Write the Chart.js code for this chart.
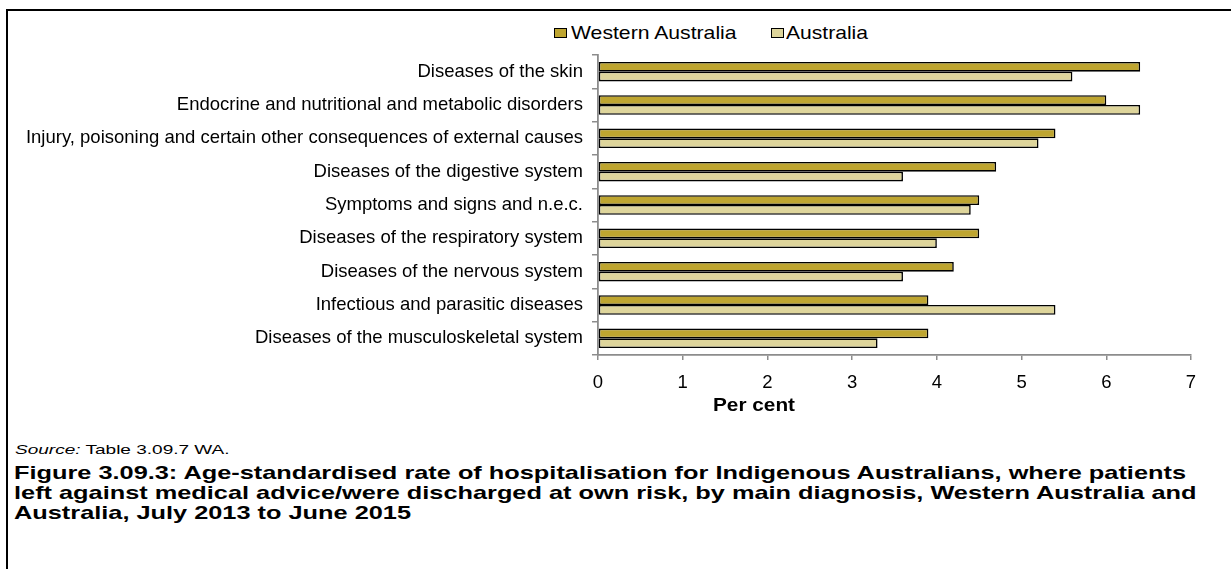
<!DOCTYPE html>
<html>
<head>
<meta charset="utf-8">
<script src="https://cdn.jsdelivr.net/npm/chart.js@4/dist/chart.umd.min.js"></script>
<style>
  html, body { margin: 0; padding: 0; background: #fff; }
  body { width: 1231px; height: 569px; position: relative; overflow: hidden; font-family: "Liberation Sans", Arial, sans-serif; color: #000; }
  #wrap { position: absolute; left: 0; top: 0; width: 1231px; height: 400px; }
  .frame { position: absolute; background: #000; }
  .legitem { position: absolute; top: 22px; height: 22px; line-height: 22px; font-size: 18.5px; white-space: nowrap; }
  .legbox { position: absolute; top: 28px; width: 11px; height: 8px; border: 1.5px solid #000; }
  .stretch { transform-origin: 0 50%; white-space: nowrap; position: absolute; }
  #xtitle { position: absolute; top: 393px; height: 24px; line-height: 24px; font-size: 18.5px; font-weight: bold; white-space: nowrap; }
  #source { left: 15px; top: 440px; font-size: 13px; line-height: 20px; }
  #caption { left: 14px; top: 463px; font-size: 18.5px; font-weight: bold; line-height: 20px; }
</style>
</head>
<body>
<div class="frame" style="left:6px;top:9px;width:1225px;height:2px;"></div>
<div class="frame" style="left:6px;top:9px;width:2px;height:560px;"></div>
<div id="legend"></div>
<div id="wrap"><canvas id="c"></canvas></div>
<div id="xtitle">Per cent</div>
<div id="source" class="stretch"><i>Source:</i> Table 3.09.7 WA.</div>
<div id="caption" class="stretch">Figure 3.09.3: Age-standardised rate of hospitalisation for Indigenous Australians, where patients<br>left against medical advice/were discharged at own risk, by main diagnosis, Western Australia and<br>Australia, July 2013 to June 2015</div>
<script>
const categories = [
  "Diseases of the skin",
  "Endocrine and nutritional and metabolic disorders",
  "Injury, poisoning and certain other consequences of external causes",
  "Diseases of the digestive system",
  "Symptoms and signs and n.e.c.",
  "Diseases of the respiratory system",
  "Diseases of the nervous system",
  "Infectious and parasitic diseases",
  "Diseases of the musculoskeletal system"
];
const seriesNames = ["Western Australia", "Australia"];
const westernAustralia = [6.4, 6.0, 5.4, 4.7, 4.5, 4.5, 4.2, 3.9, 3.9];
const australia = [5.6, 6.4, 5.2, 3.6, 4.4, 4.0, 3.6, 5.4, 3.3];
const xTicks = [0, 1, 2, 3, 4, 5, 6, 7];
const colors = ["#BEA530", "#DED59B"];

const FONT = "'Liberation Sans', Arial, sans-serif";

// stretch helper: scale text horizontally to a target width
function fitWidth(el, target) {
  const w = el.scrollWidth || el.getBoundingClientRect().width;
  el.style.transform = 'scaleX(' + (target / w) + ')';
}

// HTML legend
const leg = document.getElementById('legend');
const legPos = [{ box: 554, text: 571, w: 166 }, { box: 771, text: 786, w: 82 }];
seriesNames.forEach((n, i) => {
  const b = document.createElement('div');
  b.className = 'legbox';
  b.style.left = legPos[i].box + 'px';
  b.style.background = colors[i];
  leg.appendChild(b);
  const t = document.createElement('div');
  t.className = 'legitem stretch';
  t.style.left = legPos[i].text + 'px';
  t.textContent = n;
  leg.appendChild(t);
  fitWidth(t, legPos[i].w);
});

// axis title: centred at x=754
const xt = document.getElementById('xtitle');
const xtw = xt.getBoundingClientRect().width;
xt.style.left = (754 - 82 / 2) + 'px';
xt.style.transformOrigin = '0 50%';
xt.style.transform = 'scaleX(' + (82 / xtw) + ')';

fitWidth(document.getElementById('source'), 215);
fitWidth(document.getElementById('caption'), 1183);

new Chart(document.getElementById('c'), {
  type: 'bar',
  data: {
    labels: categories,
    datasets: [
      { label: seriesNames[0], data: westernAustralia, backgroundColor: colors[0], borderColor: '#000', borderWidth: 1.6, borderSkipped: false, categoryPercentage: 0.585, barPercentage: 1.0 },
      { label: seriesNames[1], data: australia, backgroundColor: colors[1], borderColor: '#000', borderWidth: 1.6, borderSkipped: false, categoryPercentage: 0.585, barPercentage: 1.0 }
    ]
  },
  options: {
    indexAxis: 'y',
    responsive: true,
    maintainAspectRatio: false,
    animation: false,
    layout: { padding: { top: 55, right: 40, left: 0, bottom: 0 } },
    plugins: { legend: { display: false }, tooltip: { enabled: false } },
    scales: {
      y: {
        afterFit: (s) => { s.width = 598; },
        grid: { display: true, drawOnChartArea: false, drawTicks: true, tickLength: 6, color: '#8c8c8c', lineWidth: 1.5, offset: true },
        border: { display: true, color: '#8c8c8c', width: 1.8 },
        ticks: { color: '#000', font: { family: FONT, size: 18.5 }, padding: 9, autoSkip: false }
      },
      x: {
        min: 0, max: 7,
        afterFit: (s) => { s.height = 45; },
        afterBuildTicks: (s) => { s.ticks = xTicks.map(v => ({ value: v })); },
        grid: { display: true, drawOnChartArea: false, drawTicks: true, tickLength: 5, color: '#8c8c8c', lineWidth: 1.5 },
        border: { display: true, color: '#8c8c8c', width: 1.8 },
        ticks: { color: '#000', font: { family: FONT, size: 18.5 }, padding: 12 }
      }
    }
  }
});
</script>
</body>
</html>
